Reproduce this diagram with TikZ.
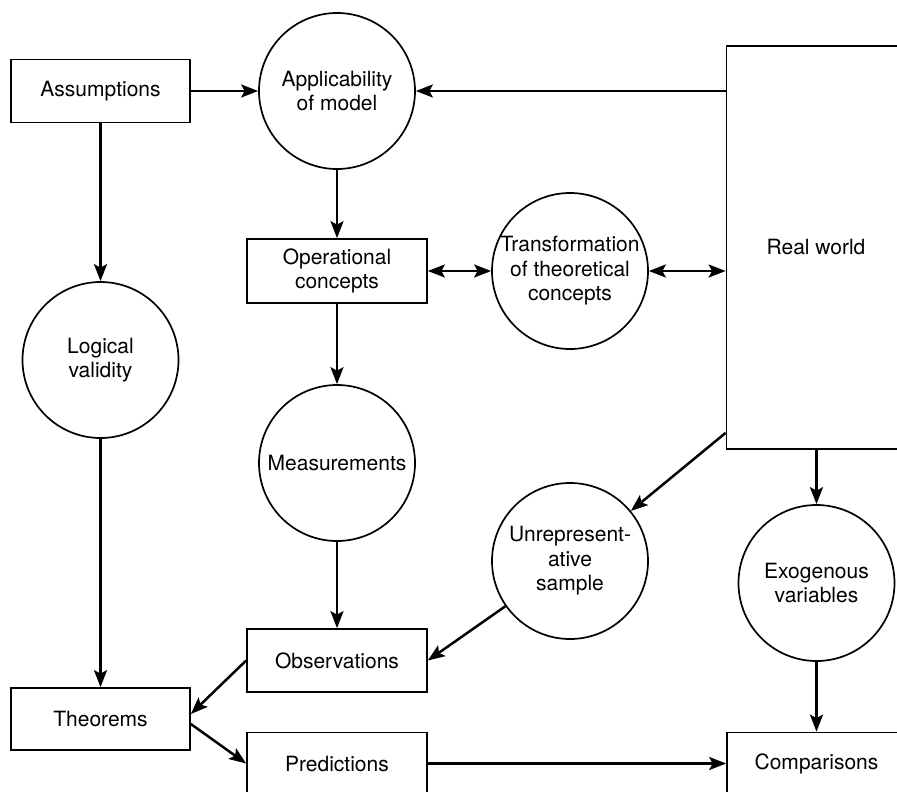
\documentclass[tikz,border=0pt]{standalone}
\usepackage{fontspec}
\setmainfont{TeX Gyre Heros}
\usetikzlibrary{arrows.meta}
\begin{document}
\begin{tikzpicture}[x=1pt,y=-1pt,
  every node/.style={font=\fontsize{21}{24.5}\selectfont, align=center, inner sep=0pt},
  box/.style={draw, line width=1.7pt, rectangle},
  bubble/.style={draw, line width=1.7pt, circle, minimum size=156pt},
  conn/.style={line width=2.5pt, -{Stealth[length=17pt,width=13pt,inset=3.5pt]}},
  twoway/.style={line width=2.5pt, {Stealth[length=17pt,width=13pt,inset=3.5pt]}-{Stealth[length=17pt,width=13pt,inset=3.5pt]}}]
\useasboundingbox (0,0) rectangle (897,792);
\clip (0,0) rectangle (897,792);

% boxes and bubbles
\node[box, minimum width=179pt, minimum height=63pt] (assume) at (100.5,91) {Assumptions};
\node[bubble] (app) at (337,91) {Applicability\\of model};
\node[box, minimum width=180pt, minimum height=64pt] (oper) at (337,271) {Operational\\concepts};
\node[bubble] (trans) at (570,271) {Transformation\\of theoretical\\concepts};
\node[box, minimum width=179pt, minimum height=403pt] (real) at (816,247.5) {Real world};
\node[bubble] (logic) at (100.5,360) {Logical\\validity};
\node[bubble] (meas) at (337,463) {Measurements};
\node[bubble] (unrep) at (570,561) {Unrepresent-\\ative\\sample};
\node[bubble] (exo) at (816.5,583) {Exogenous\\variables};
\node[box, minimum width=180pt, minimum height=63pt] (obs) at (337,660.5) {Observations};
\node[box, minimum width=179pt, minimum height=62pt] (theo) at (100.5,719) {Theorems};
\node[box, minimum width=180pt, minimum height=62pt] (pred) at (337,763.5) {Predictions};
\node[box, minimum width=179pt, minimum height=62pt] (comp) at (816.5,763.5) {Comparisons};

% connectors
\draw[conn] (assume) -- (app);
\draw[conn] (real.west |- app) -- (app.east);
\draw[conn] (assume) -- (logic);
\draw[conn] (logic) -- (theo);
\draw[conn] (app) -- (oper);
\draw[twoway] (oper) -- (trans);
\draw[twoway] (trans) -- (real.west |- trans);
\draw[conn] (oper) -- (meas);
\draw[conn] (meas) -- (obs);
\draw[conn] ([yshift=17pt]real.south west) -- (unrep);
\draw[conn] (real.south -| exo) -- (exo);
\draw[conn] (exo) -- (comp);
\draw[conn] (unrep) -- (obs.east);
\draw[conn] (obs.west) -- ([yshift=5pt]theo.east);
\draw[conn] ([yshift=-5pt]theo.east) -- (pred.west);
\draw[conn] (pred) -- (comp);
\end{tikzpicture}
\end{document}
